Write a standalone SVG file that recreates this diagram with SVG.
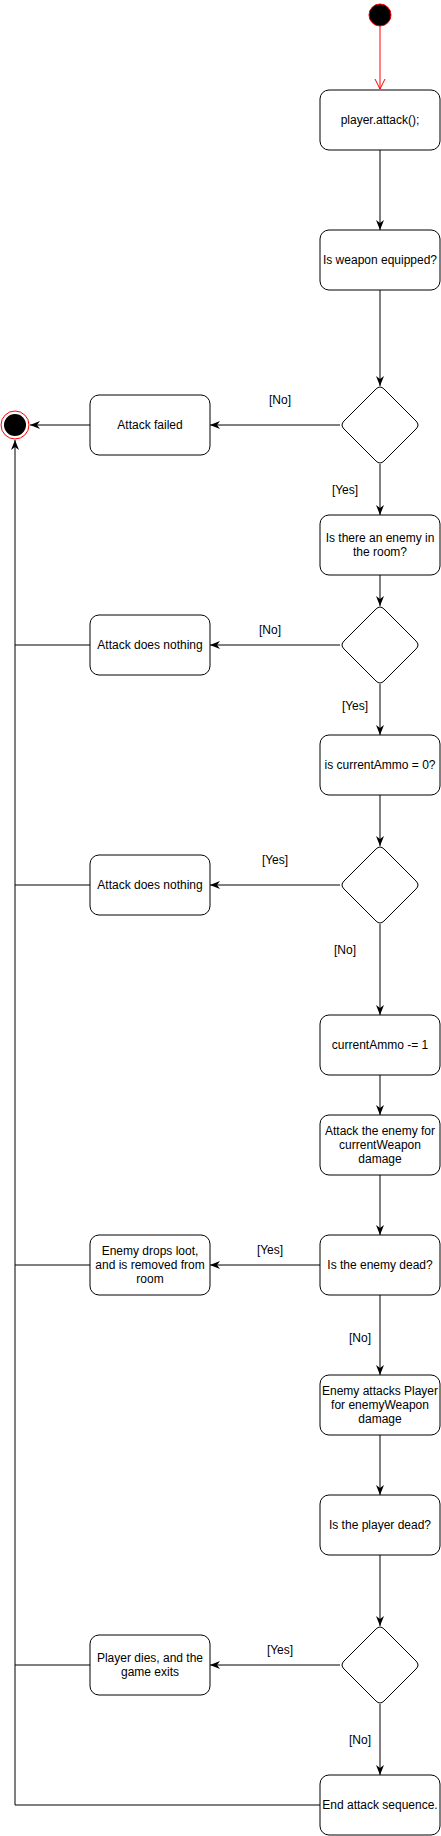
<svg xmlns="http://www.w3.org/2000/svg" width="441" height="1836" viewBox="0 0 441 1836">
<defs>
<style>
.box{fill:#fff;stroke:#000;stroke-width:1}
.t{font-family:"Liberation Sans",Arial,sans-serif;font-size:12px;fill:#000;text-anchor:middle}
.e{fill:none;stroke:#000;stroke-width:1}
</style>
<marker id="arr" markerWidth="10" markerHeight="10" viewBox="0 0 10 10" refX="10" refY="5" orient="auto" markerUnits="userSpaceOnUse">
<path d="M0,1 L10,5 L0,9 L3,5 Z" fill="#000"/>
</marker>
<marker id="open" markerWidth="12" markerHeight="12" viewBox="0 0 12 12" refX="11" refY="6" orient="auto" markerUnits="userSpaceOnUse">
<path d="M1,1 L11,6 L1,11" fill="none" stroke="#ff0000" stroke-width="1"/>
</marker>
<path id="dia" d="M-4,-36 Q0,-40 4,-36 L36,-4 Q40,0 36,4 L4,36 Q0,40 -4,36 L-36,4 Q-40,0 -36,-4 Z"/>
</defs>
<rect width="441" height="1836" fill="#fff"/>
<g id="connectors">
<line x1="380" y1="26" x2="380" y2="89" stroke="#ff0000" stroke-width="1" marker-end="url(#open)"/>
<line class="e" x1="380" y1="150" x2="380" y2="230" marker-end="url(#arr)"/>
<line class="e" x1="380" y1="290" x2="380" y2="386" marker-end="url(#arr)"/>
<line class="e" x1="340" y1="425" x2="210" y2="425" marker-end="url(#arr)"/>
<line class="e" x1="90" y1="425" x2="30" y2="425" marker-end="url(#arr)"/>
<line class="e" x1="380" y1="464" x2="380" y2="515" marker-end="url(#arr)"/>
<line class="e" x1="380" y1="575" x2="380" y2="606" marker-end="url(#arr)"/>
<line class="e" x1="340" y1="645" x2="210" y2="645" marker-end="url(#arr)"/>
<line class="e" x1="380" y1="684" x2="380" y2="735" marker-end="url(#arr)"/>
<line class="e" x1="380" y1="795" x2="380" y2="846" marker-end="url(#arr)"/>
<line class="e" x1="340" y1="885" x2="210" y2="885" marker-end="url(#arr)"/>
<line class="e" x1="380" y1="924" x2="380" y2="1015" marker-end="url(#arr)"/>
<line class="e" x1="380" y1="1075" x2="380" y2="1115" marker-end="url(#arr)"/>
<line class="e" x1="380" y1="1175" x2="380" y2="1235" marker-end="url(#arr)"/>
<line class="e" x1="320" y1="1265" x2="210" y2="1265" marker-end="url(#arr)"/>
<line class="e" x1="380" y1="1295" x2="380" y2="1375" marker-end="url(#arr)"/>
<line class="e" x1="380" y1="1435" x2="380" y2="1495" marker-end="url(#arr)"/>
<line class="e" x1="380" y1="1555" x2="380" y2="1626" marker-end="url(#arr)"/>
<line class="e" x1="340" y1="1665" x2="210" y2="1665" marker-end="url(#arr)"/>
<line class="e" x1="380" y1="1704" x2="380" y2="1775" marker-end="url(#arr)"/>
<line class="e" x1="90" y1="645" x2="15" y2="645"/>
<line class="e" x1="90" y1="885" x2="15" y2="885"/>
<line class="e" x1="90" y1="1265" x2="15" y2="1265"/>
<line class="e" x1="90" y1="1665" x2="15" y2="1665"/>
<polyline class="e" points="320,1805 15,1805 15,440" marker-end="url(#arr)"/>
<text class="t" x="280" y="404">[No]</text>
<text class="t" x="345" y="494">[Yes]</text>
<text class="t" x="270" y="634">[No]</text>
<text class="t" x="355" y="710">[Yes]</text>
<text class="t" x="275" y="864">[Yes]</text>
<text class="t" x="345" y="954">[No]</text>
<text class="t" x="270" y="1254">[Yes]</text>
<text class="t" x="360" y="1342">[No]</text>
<text class="t" x="280" y="1654">[Yes]</text>
<text class="t" x="360" y="1744">[No]</text>
</g>
<g id="start"><circle cx="380" cy="15" r="11" fill="#000" stroke="#ff0000" stroke-width="1"/></g>
<g id="end"><circle cx="15" cy="425" r="14" fill="#fff" stroke="#ff0000" stroke-width="1"/><circle cx="15" cy="425" r="11" fill="#000"/></g>
<g id="n1"><rect class="box" x="320" y="90" width="120" height="60" rx="9"/><text class="t" x="380" y="124">player.attack();</text></g>
<g id="n2"><rect class="box" x="320" y="230" width="120" height="60" rx="9"/><text class="t" x="380" y="264">Is weapon equipped?</text></g>
<g id="d1"><use href="#dia" x="380" y="425" class="box"/></g>
<g id="n3"><rect class="box" x="90" y="395" width="120" height="60" rx="9"/><text class="t" x="150" y="429">Attack failed</text></g>
<g id="n4"><rect class="box" x="320" y="515" width="120" height="60" rx="9"/><text class="t" x="380" y="542">Is there an enemy in</text><text class="t" x="380" y="556">the room?</text></g>
<g id="d2"><use href="#dia" x="380" y="645" class="box"/></g>
<g id="n5"><rect class="box" x="90" y="615" width="120" height="60" rx="9"/><text class="t" x="150" y="649">Attack does nothing</text></g>
<g id="n6"><rect class="box" x="320" y="735" width="120" height="60" rx="9"/><text class="t" x="380" y="769">is currentAmmo = 0?</text></g>
<g id="d3"><use href="#dia" x="380" y="885" class="box"/></g>
<g id="n7"><rect class="box" x="90" y="855" width="120" height="60" rx="9"/><text class="t" x="150" y="889">Attack does nothing</text></g>
<g id="n8"><rect class="box" x="320" y="1015" width="120" height="60" rx="9"/><text class="t" x="380" y="1049">currentAmmo -= 1</text></g>
<g id="n9"><rect class="box" x="320" y="1115" width="120" height="60" rx="9"/><text class="t" x="380" y="1135">Attack the enemy for</text><text class="t" x="380" y="1149">currentWeapon</text><text class="t" x="380" y="1163">damage</text></g>
<g id="n10"><rect class="box" x="320" y="1235" width="120" height="60" rx="9"/><text class="t" x="380" y="1269">Is the enemy dead?</text></g>
<g id="n11"><rect class="box" x="90" y="1235" width="120" height="60" rx="9"/><text class="t" x="150" y="1255">Enemy drops loot,</text><text class="t" x="150" y="1269">and is removed from</text><text class="t" x="150" y="1283">room</text></g>
<g id="n12"><rect class="box" x="320" y="1375" width="120" height="60" rx="9"/><text class="t" x="380" y="1395">Enemy attacks Player</text><text class="t" x="380" y="1409">for enemyWeapon</text><text class="t" x="380" y="1423">damage</text></g>
<g id="n13"><rect class="box" x="320" y="1495" width="120" height="60" rx="9"/><text class="t" x="380" y="1529">Is the player dead?</text></g>
<g id="d4"><use href="#dia" x="380" y="1665" class="box"/></g>
<g id="n14"><rect class="box" x="90" y="1635" width="120" height="60" rx="9"/><text class="t" x="150" y="1662">Player dies, and the</text><text class="t" x="150" y="1676">game exits</text></g>
<g id="n15"><rect class="box" x="320" y="1775" width="120" height="60" rx="9"/><text class="t" x="380" y="1809">End attack sequence.</text></g>
</svg>
